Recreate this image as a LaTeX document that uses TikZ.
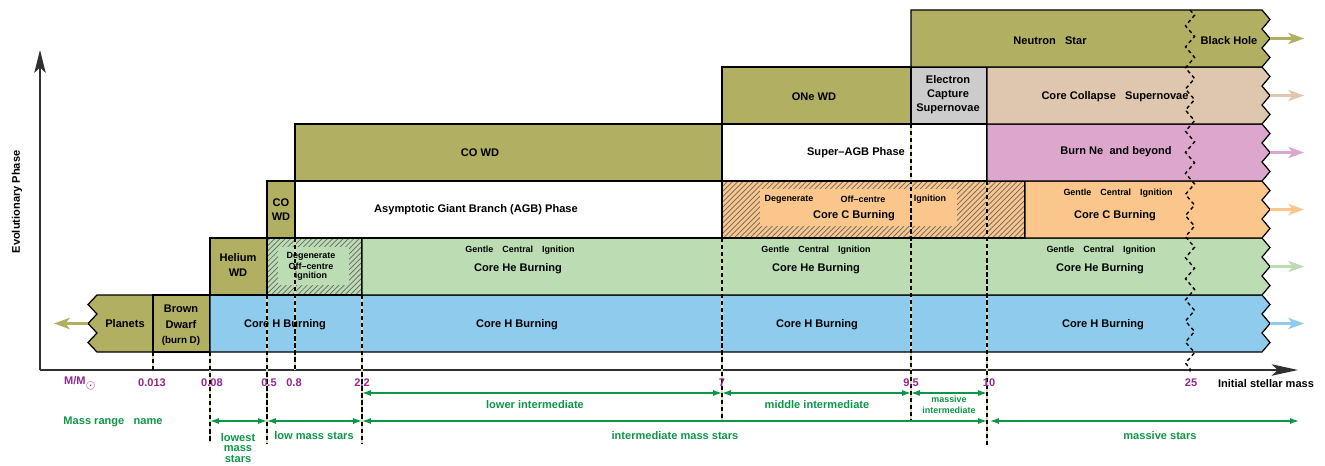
\documentclass[tikz,border=0pt]{standalone}
\usepackage{fontspec}
\setmainfont{Liberation Sans}
\usetikzlibrary{arrows.meta,patterns,decorations.pathmorphing}
\definecolor{cOlive}{HTML}{B1AF62}
\definecolor{cBlue}{HTML}{8ECBEC}
\definecolor{cGreenF}{HTML}{BCDDB4}
\definecolor{cOrange}{HTML}{FBC68B}
\definecolor{cPink}{HTML}{DDA7CD}
\definecolor{cTan}{HTML}{DFC6AF}
\definecolor{cGrey}{HTML}{CCCCCC}
\definecolor{cPurple}{HTML}{92278F}
\definecolor{cGreenT}{HTML}{0E9647}
\definecolor{cKhaki}{HTML}{DCD8A8}
\definecolor{cAxis}{HTML}{303030}
\newcommand{\rbox}[3]{\filldraw[box, fill=#1] (#2,#3) -- (1262,#3) -- (1270,{#3+9.5}) -- (1262,{#3+19}) -- (1270,{#3+28.5}) -- (1262,{#3+38}) -- (1270,{#3+47.5}) -- (1262,{#3+57}) -- (#2,{#3+57}) -- cycle;}
\begin{document}
\begin{tikzpicture}[x={(0.02cm,0cm)}, y={(0cm,-0.02cm)},
  box/.style={draw=black, line width=0.7pt, line join=miter},
  lbl/.style={font=\bfseries\fontsize{6.3}{7.4}\selectfont, inner sep=0pt, align=center},
  slbl/.style={font=\bfseries\fontsize{5.1}{6.2}\selectfont, inner sep=0pt, align=center},
  num/.style={lbl, text=cPurple},
  grn/.style={lbl, text=cGreenT},
  sgrn/.style={slbl, text=cGreenT},
  guide/.style={draw=cKhaki, line width=0.7pt, postaction={draw=black, line width=0.7pt, dash pattern=on 2.4pt off 1.6pt}},
  axisline/.style={draw=cAxis, line width=0.8pt},
  rng/.style={draw=cGreenT, line width=0.75pt, {Latex[length=5pt,width=3.4pt]}-{Latex[length=5pt,width=3.4pt]}},
  outarrow/.style={line width=1.3pt, -{Stealth[length=9pt,width=6.5pt,inset=2.5pt]}},
  hatchfill/.style={pattern=north east lines, pattern color=black!60}
]
\useasboundingbox (0,0) rectangle (1325,466);

% ---------- axes ----------
\coordinate (origin) at (40,370);
\coordinate (ytip) at (40,50);
\coordinate (xtip) at (1298,370);
\draw[axisline, -{Stealth[length=13pt,width=6.5pt,inset=3pt]}] (origin) -- (ytip);
\draw[axisline, -{Stealth[length=15pt,width=6.5pt,inset=3.5pt]}] (origin) -- (xtip);

% ---------- row 1: H burning ----------
\filldraw[box, fill=cOlive] (153,295) -- (97,295) -- (88,304.5) -- (97,314) -- (88,323.5) -- (97,333) -- (88,342.5) -- (97,352) -- (153,352) -- cycle;
\filldraw[box, fill=cOlive] (153,295) rectangle (210,352);
\rbox{cBlue}{210}{295}

% ---------- row 2: He burning ----------
\filldraw[box, fill=cOlive] (210,238) rectangle (267,295);
\fill[cGreenF] (267,238) rectangle (362,295);
\fill[hatchfill] (267,238) rectangle (362,295);
\fill[cGreenF] (278,247) rectangle (349,285);
\draw[box] (267,238) rectangle (362,295);
\rbox{cGreenF}{362}{238}

% ---------- row 3: AGB / C burning ----------
\filldraw[box, fill=cOlive] (267,181) rectangle (295,238);
\filldraw[box, fill=white] (295,181) rectangle (722,238);
\fill[cOrange] (722,181) rectangle (1025,238);
\fill[hatchfill] (722,181) rectangle (1025,238);
\fill[cOrange] (760,189) rectangle (957,226);
\draw[box] (722,181) rectangle (1025,238);
\rbox{cOrange}{1025}{181}

% ---------- row 4 ----------
\filldraw[box, fill=cOlive] (295,124) rectangle (722,181);
\filldraw[box, fill=white] (722,124) rectangle (987,181);
\rbox{cPink}{987}{124}

% ---------- row 5 ----------
\filldraw[box, fill=cOlive] (722,67) rectangle (911,124);
\filldraw[box, fill=cGrey] (911,67) rectangle (987,124);
\rbox{cTan}{987}{67}

% ---------- row 6 ----------
\rbox{cOlive}{911}{10}

% ---------- outgoing arrows ----------
\coordinate (pl0) at (88,323.5);
\coordinate (pl1) at (54,323.5);
\draw[outarrow, cOlive] (pl0) -- (pl1);
\foreach \t/\c/\n in {10/cOlive/a6, 67/cTan/a5, 124/cPink/a4, 181/cOrange/a3, 238/cGreenF/a2, 295/cBlue/a1}{
  \coordinate (\n s) at (1270,{\t+28.5});
  \coordinate (\n e) at (1304,{\t+28.5});
  \draw[outarrow, \c] (\n s) -- (\n e);
}

% ---------- guide lines ----------
\foreach \x/\a/\b in {153/352/370, 210/352/442, 267/295/443, 295/238/370, 362/295/443, 722/238/421, 911/124/421, 987/181/445}{
  \coordinate (g\x a) at (\x,\a);
  \coordinate (g\x b) at (\x,\b);
  \draw[guide] (g\x a) -- (g\x b);
}
\coordinate (w25a) at (1190,10);
\coordinate (w25b) at (1190,372);
\draw[black, line width=0.8pt, dash pattern=on 2pt off 1.8pt, decorate, decoration={zigzag, segment length=12pt, amplitude=2.6pt}] (w25a) -- (w25b);

% ---------- box texts ----------
\node[lbl] (planets) at (125,323.5) {Planets};
\node[lbl] (bd1) at (181,309) {Brown};
\node[lbl] (bd2) at (181,325) {Dwarf};
\node[slbl, font=\bfseries\fontsize{5.6}{6.5}\selectfont] (bd3) at (181,341) {(burn D)};
\node[lbl] (h1) at (285,325) {Core H Burning};
\node[lbl] (h2) at (517,325) {Core H Burning};
\node[lbl] (h3) at (817,325) {Core H Burning};
\node[lbl] (h4) at (1103,325) {Core H Burning};

\node[lbl] (hewd1) at (238,258) {Helium};
\node[lbl] (hewd2) at (238,273) {WD};
\node[slbl] (dg1) at (311,256) {Degenerate};
\node[slbl] (dg2) at (311,266) {Off–centre};
\node[slbl] (dg3) at (311,276) {ignition};
\node[slbl] (he1g) at (520,250) {Gentle\quad Central\quad Ignition};
\node[lbl] (he1) at (518,269) {Core He Burning};
\node[slbl] (he2g) at (816,250) {Gentle\quad Central\quad Ignition};
\node[lbl] (he2) at (816,269) {Core He Burning};
\node[slbl] (he3g) at (1101,250) {Gentle\quad Central\quad Ignition};
\node[lbl] (he3) at (1100,269) {Core He Burning};

\node[lbl] (cowd1) at (281,203) {CO};
\node[lbl] (cowd2) at (281,217) {WD};
\node[lbl] (agb) at (476,210) {Asymptotic Giant Branch (AGB) Phase};
\node[slbl] (cdeg1) at (789,199) {Degenerate};
\node[slbl] (cdeg2) at (863,199) {Off–centre};
\node[slbl] (cdeg3) at (930,199) {Ignition};
\node[lbl] (c1) at (854,216) {Core C Burning};
\node[slbl] (c2g) at (1118,193) {Gentle\quad Central\quad Ignition};
\node[lbl] (c2) at (1115,216) {Core C Burning};

\node[lbl] (cowd) at (480,153) {CO WD};
\node[lbl] (sagb) at (856,153) {Super–AGB Phase};
\node[lbl] (ne) at (1116,152) {Burn Ne\ \ and beyond};

\node[lbl] (onewd) at (814,97) {ONe WD};
\node[lbl] (ec1) at (948,80) {Electron};
\node[lbl] (ec2) at (948,95) {Capture};
\node[lbl] (ec3) at (948,109) {Supernovae};
\node[lbl] (ccsn) at (1115,97) {Core Collapse\ \ \ Supernovae};

\node[lbl] (ns) at (1050,41) {Neutron\ \ \ Star};
\node[lbl] (bh) at (1229,41) {Black Hole};

\node[lbl, rotate=90] (evo) at (17,202) {Evolutionary Phase};
\node[lbl] (ism) at (1266,384) {Initial stellar mass};

% ---------- mass values ----------
\node[num] (msun) at (80,383) {M/M\raisebox{-2.5pt}{\fontsize{6}{6}\selectfont$\odot$}};
\node[num] (v0013) at (152,383) {0.013};
\node[num] (v008) at (212,383) {0.08};
\node[num] (v05) at (269,383) {0.5};
\node[num] (v08) at (294,383) {0.8};
\node[num] (v22) at (362,383) {2.2};
\node[num] (v7) at (722,383) {7};
\node[num] (v95) at (911,383) {9.5};
\node[num] (v10) at (989,383) {10};
\node[num] (v25) at (1191,383) {25};

% ---------- mass ranges ----------
\node[grn] (mrn) at (113,422) {Mass range\ \ \ name};
\foreach \x in {210,267,362,722,911,987}{
  \coordinate (u\x) at (\x,393);
  \coordinate (l\x) at (\x,421);
}
\coordinate (l1299) at (1299,421);
\coordinate (l990) at (990,421);
\draw[rng] (u362) -- (u722);
\draw[rng] (u722) -- (u911);
\draw[rng] (u911) -- (u987);
\draw[rng] (l210) -- (l267);
\draw[rng] (l267) -- (l362);
\draw[rng] (l362) -- (l987);
\draw[rng] (l990) -- (l1299);

\node[grn] (lowint) at (535,405) {lower intermediate};
\node[grn] (midint) at (817,405) {middle intermediate};
\node[sgrn] (massint1) at (949,399) {massive};
\node[sgrn] (massint2) at (949,410) {intermediate};
\node[grn] (lowest) at (238,448) {lowest\\[-1.2pt]mass\\[-1.2pt]stars};
\node[grn] (lowmass) at (314,436) {low mass stars};
\node[grn] (intmass) at (675,436) {intermediate mass stars};
\node[grn] (massive) at (1160,436) {massive stars};
\end{tikzpicture}
\end{document}
